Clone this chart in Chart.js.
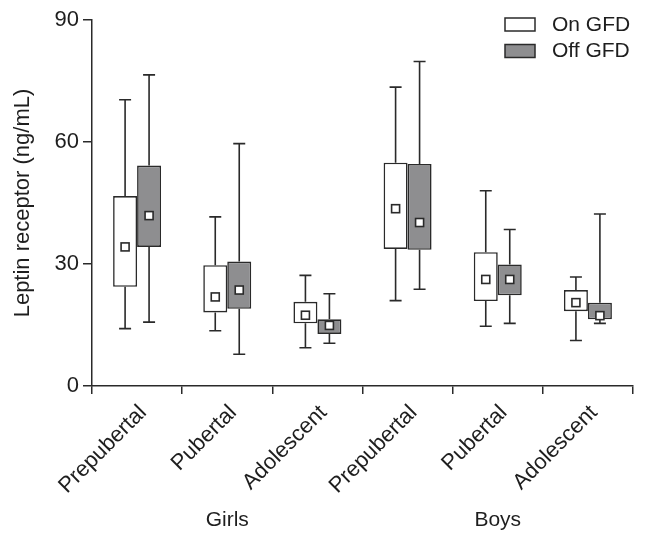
<!DOCTYPE html>
<html lang="en">
<head>
<meta charset="UTF-8">
<title>Leptin receptor by pubertal stage</title>
<script src="https://cdn.jsdelivr.net/npm/chart.js"></script>
<style>
  body { margin: 0; background: #fff; }
</style>
</head>
<body>
<canvas id="leptinChart" width="646" height="541"></canvas>
<script>
// categories and groups
const categories = ['Prepubertal', 'Pubertal', 'Adolescent', 'Prepubertal', 'Pubertal', 'Adolescent'];
const groups = ['Girls', 'Boys'];
const yTicks = [0, 30, 60, 90];

// On GFD (white boxes)
const onMin  = [14.1, 13.6,  9.4, 21.0, 14.7, 11.2];
const onQ1   = [24.4, 18.1, 15.4, 33.7, 20.9, 18.4];
const onQ3   = [46.7, 29.7, 20.7, 54.9, 32.9, 23.6];
const onMax  = [70.4, 41.6, 27.2, 73.5, 48.0, 26.8];
const onMean = [34.2, 21.9, 17.4, 43.6, 26.2, 20.5];

// Off GFD (grey boxes)
const offMin  = [15.7,  7.8, 10.5, 23.8, 15.4, 15.4];
const offQ1   = [34.2, 19.0, 12.8, 33.5, 22.3, 16.4];
const offQ3   = [54.2, 30.6, 16.4, 54.6, 29.9, 20.5];
const offMax  = [76.5, 59.6, 22.7, 79.8, 38.5, 42.3];
const offMean = [41.9, 23.6, 14.9, 40.2, 26.2, 17.3];

const ink = '#2a2a2a';
const grey = '#8e8e90';
Chart.defaults.font.family = "'Liberation Sans', Arial, sans-serif";
Chart.defaults.color = '#1e1e1e';

// whiskers + mean squares, drawn over the boxes
const boxExtras = {
    id: 'boxExtras',
    afterDatasetsDraw(chart) {
        const ctx = chart.ctx;
        const y = chart.scales.y;
        chart.data.datasets.forEach((ds, d) => {
            const meta = chart.getDatasetMeta(d);
            meta.data.forEach((bar, i) => {
                const x = bar.x;
                const yMin = y.getPixelForValue(ds.whiskerMin[i]);
                const yMax = y.getPixelForValue(ds.whiskerMax[i]);
                const yLo = y.getPixelForValue(ds.data[i][0]);
                const yHi = y.getPixelForValue(ds.data[i][1]);
                ctx.save();
                ctx.strokeStyle = ink;
                ctx.lineWidth = 1.6;
                ctx.beginPath();
                ctx.moveTo(x, yHi); ctx.lineTo(x, yMax);
                ctx.moveTo(x - 6, yMax); ctx.lineTo(x + 6, yMax);
                ctx.moveTo(x, yLo); ctx.lineTo(x, yMin);
                ctx.moveTo(x - 6, yMin); ctx.lineTo(x + 6, yMin);
                ctx.stroke();
                const ym = y.getPixelForValue(ds.mean[i]);
                ctx.fillStyle = '#fff';
                ctx.fillRect(x - 4, ym - 4, 8, 8);
                ctx.lineWidth = 1.6;
                ctx.strokeRect(x - 4, ym - 4, 8, 8);
                ctx.restore();
            });
        });
    }
};

// legend in the top-right corner of the plot area
const cornerLegend = {
    id: 'cornerLegend',
    afterDraw(chart) {
        const ctx = chart.ctx;
        const area = chart.chartArea;
        const left = area.right - 128;
        ctx.save();
        chart.data.datasets.forEach((ds, d) => {
            const top = area.top - 2 + d * 26.5;
            ctx.fillStyle = ds.backgroundColor;
            ctx.fillRect(left, top, 30, 13);
            ctx.strokeStyle = ink;
            ctx.lineWidth = 1.5;
            ctx.strokeRect(left, top, 30, 13);
            ctx.fillStyle = '#1e1e1e';
            ctx.font = "21px 'Liberation Sans', Arial, sans-serif";
            ctx.textBaseline = 'middle';
            ctx.fillText(ds.label, left + 47, top + 7);
        });
        ctx.restore();
    }
};

const ctx = document.getElementById('leptinChart').getContext('2d');
window.leptinChart = new Chart(ctx, {
    type: 'bar',
    data: {
        labels: categories,
        datasets: [
            {
                label: 'On GFD',
                data: categories.map((c, i) => [onQ1[i], onQ3[i]]),
                whiskerMin: onMin,
                whiskerMax: onMax,
                mean: onMean,
                backgroundColor: '#ffffff',
                borderColor: ink,
                borderWidth: 1.6,
                borderSkipped: false
            },
            {
                label: 'Off GFD',
                data: categories.map((c, i) => [offQ1[i], offQ3[i]]),
                whiskerMin: offMin,
                whiskerMax: offMax,
                mean: offMean,
                backgroundColor: grey,
                borderColor: ink,
                borderWidth: 1.6,
                borderSkipped: false
            }
        ]
    },
    options: {
        responsive: false,
        devicePixelRatio: 1,
        animation: false,
        categoryPercentage: 0.532,
        barPercentage: 1,
        layout: { padding: { left: 0, top: 20, right: 13, bottom: 0 } },
        plugins: {
            legend: { display: false },
            tooltip: { enabled: false }
        },
        scales: {
            x: {
                offset: true,
                grid: { offset: true, drawOnChartArea: false, tickLength: 8, color: ink, lineWidth: 1.5 },
                border: { color: ink, width: 1.5 },
                ticks: { minRotation: 45, maxRotation: 45, autoSkip: false, font: { size: 22 }, padding: 6, labelOffset: 6 },
                afterFit: s => { s.height = 120; }
            },
            x2: {
                type: 'category',
                labels: groups,
                position: 'bottom',
                offset: true,
                grid: { display: false, drawTicks: false },
                border: { display: false },
                ticks: { font: { size: 21 }, padding: 2 },
                afterFit: s => { s.height = 35; }
            },
            y: {
                min: 0,
                max: 90,
                afterBuildTicks: s => { s.ticks = yTicks.map(v => ({ value: v })); },
                ticks: { font: { size: 22 }, padding: 4 },
                grid: { drawOnChartArea: false, tickLength: 9, color: ink, lineWidth: 1.5 },
                border: { color: ink, width: 1.5 },
                title: { display: true, text: 'Leptin receptor (ng/mL)', font: { size: 22 }, padding: { top: 10, bottom: 0 } },
                afterFit: s => { s.width = 92; }
            }
        }
    },
    plugins: [boxExtras, cornerLegend]
});
</script>
</body>
</html>
